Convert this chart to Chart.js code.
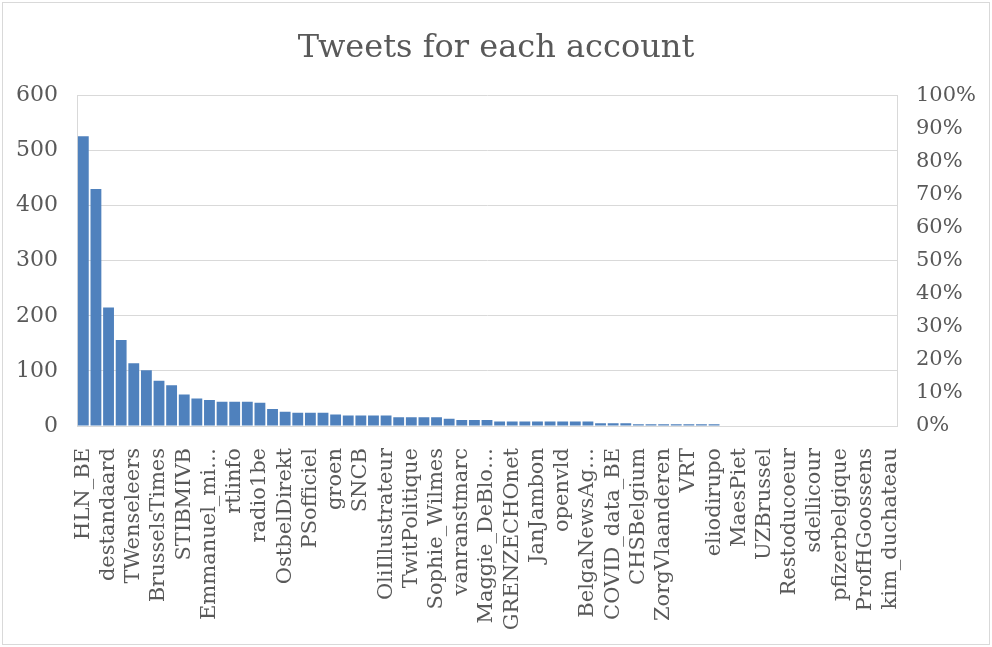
<!DOCTYPE html>
<html>
<head>
<meta charset="utf-8">
<script src="https://cdn.jsdelivr.net/npm/chart.js@4.4.1/dist/chart.umd.min.js"></script>
<style>
  html, body { margin: 0; padding: 0; background: #fff; }
  #wrap { width: 992px; height: 647px; position: relative; }
</style>
</head>
<body>
<div id="wrap"><canvas id="chart" width="992" height="647"></canvas></div>
<script>
// accounts whose names are printed (every other bar carries a label)
const labelledAccounts = [
  "HLN_BE", "destandaard", "TWenseleers", "BrusselsTimes", "STIBMIVB",
  "Emmanuel_mi…", "rtlinfo", "radio1be", "OstbelDirekt", "PSofficiel",
  "groen", "SNCB", "OliIllustrateur", "TwitPolitique", "Sophie_Wilmes",
  "vanranstmarc", "Maggie_DeBlo…", "GRENZECHOnet", "JanJambon", "openvld",
  "BelgaNewsAg…", "COVID_data_BE", "CHSBelgium", "ZorgVlaanderen", "VRT",
  "eliodirupo", "MaesPiet", "UZBrussel", "Restoducoeur", "sdellicour",
  "pfizerbelgique", "ProfHGoossens", "kim_duchateau"
];

// tweet count per account, sorted descending (65 bars)
const tweetCounts = [
  526, 430, 215, 156, 114, 101, 82, 74, 57, 50,
  47, 44, 44, 44, 42, 31, 26, 24, 24, 24,
  21, 19, 19, 19, 19, 16, 16, 16, 16, 13,
  11, 11, 11, 8, 8, 8, 8, 8, 8, 8,
  8, 5, 5, 5, 3, 3, 3, 3, 3, 3,
  3, 1, 1, 1, 1, 1, 1, 1, 1, 1,
  1, 1, 1, 1, 1
];

const leftTicks = [0, 100, 200, 300, 400, 500, 600];
const rightTicks = [0, 0.1, 0.2, 0.3, 0.4, 0.5, 0.6, 0.7, 0.8, 0.9, 1];

// odd bars have no printed name in the picture
const categories = tweetCounts.map((_, i) => i % 2 === 0 ? labelledAccounts[i / 2] : "");

const textColor = "#595959";
const gridColor = "#d9d9d9";
const fontFamily = "'DejaVu Serif', serif";

const frame = {
  id: "frame",
  afterDraw(chart) {
    const c = chart.ctx;
    c.save();
    c.strokeStyle = gridColor;
    c.lineWidth = 1;
    c.strokeRect(2.5, 2.5, chart.width - 5, chart.height - 5);
    c.restore();
  }
};

const ctx = document.getElementById("chart").getContext("2d");
new Chart(ctx, {
  type: "bar",
  data: {
    labels: categories,
    datasets: [
      {
        label: "Tweets",
        data: tweetCounts,
        backgroundColor: "#4f81bd",
        borderWidth: 0,
        barPercentage: 0.86,
        categoryPercentage: 1.0,
        yAxisID: "y",
      },
    ],
  },
  options: {
    responsive: false,
    animation: false,
    layout: { padding: 0 },
    plugins: {
      legend: { display: false },
      tooltip: { enabled: false },
      title: {
        display: true,
        text: "Tweets for each account",
        color: textColor,
        font: { family: fontFamily, size: 32, weight: "normal" },
        padding: { top: 29, bottom: 28 },
      },
    },
    scales: {
      x: {
        grid: { display: false },
        border: { display: true, color: gridColor },
        ticks: {
          autoSkip: false,
          maxRotation: 90,
          minRotation: 90,
          padding: 14,
          color: textColor,
          font: { family: fontFamily, size: 21 },
        },
        afterFit: scale => { scale.height = 221; },
      },
      y: {
        position: "left",
        min: 0,
        max: 600,
        afterBuildTicks: axis => axis.ticks = leftTicks.map(v => ({ value: v })),
        grid: { color: gridColor, drawTicks: false },
        border: { display: true, color: gridColor },
        ticks: {
          padding: 19,
          color: textColor,
          font: { family: fontFamily, size: 22 },
        },
        afterFit: scale => { scale.width = 77; },
      },
      y2: {
        position: "right",
        display: true,
        min: 0,
        max: 1,
        afterBuildTicks: axis => axis.ticks = rightTicks.map(v => ({ value: v })),
        grid: { drawOnChartArea: false, drawTicks: false },
        border: { display: true, color: gridColor },
        ticks: {
          padding: 19,
          color: textColor,
          font: { family: fontFamily, size: 21 },
          callback: value => Math.round(value * 100) + "%",
        },
        afterFit: scale => { scale.width = 95; },
      },
    },
  },
  plugins: [frame],
});
</script>
</body>
</html>
